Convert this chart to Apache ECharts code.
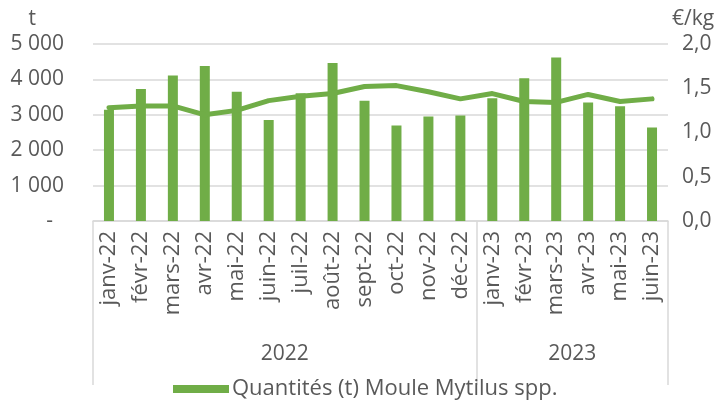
<!DOCTYPE html>
<html>
<head>
<meta charset="utf-8">
<script src="https://cdn.jsdelivr.net/npm/echarts@6/dist/echarts.min.js"></script>
<style>
  html, body { margin: 0; padding: 0; background: #fff; }
  #chart { width: 724px; height: 410px; }
</style>
</head>
<body>
<div id="chart"></div>
<script>
const months = ['janv-22', 'févr-22', 'mars-22', 'avr-22', 'mai-22', 'juin-22', 'juil-22', 'août-22', 'sept-22', 'oct-22', 'nov-22', 'déc-22',
  'janv-23', 'févr-23', 'mars-23', 'avr-23', 'mai-23', 'juin-23']
const quantities = [3140, 3730, 4110, 4380, 3650, 2850, 3610, 4460, 3400, 2700, 2950, 2980, 3470, 4030, 4620, 3350, 3240, 2640]
const prices = [1.28, 1.30, 1.30, 1.20, 1.25, 1.36, 1.41, 1.44, 1.52, 1.53, 1.46, 1.38, 1.44, 1.35, 1.34, 1.43, 1.35, 1.38]
const years = ['2022', '2023']
const yearCenters = [6, 15]
const yearBounds = [0, 12, 18]

const font = 'Open Sans'
const grey = '#595959'
const green = '#70AD47'
const gridGrey = '#d9d9d9'

const chart = echarts.init(document.getElementById('chart'))

chart.setOption({
  animation: false,
  textStyle: { fontFamily: font, color: grey },
  grid: { left: 93, right: 56, top: 44, bottom: 189 },
  legend: {
    bottom: 5,
    left: 168,
    itemWidth: 56,
    itemHeight: 8,
    itemGap: 4,
    icon: 'rect',
    data: ['Quantités (t) Moule Mytilus spp.'],
    textStyle: { fontFamily: font, fontSize: 22, color: grey, padding: [0, 0, 0, -2] },
  },
  xAxis: [
    {
      type: 'category',
      data: months,
      axisLine: { lineStyle: { color: gridGrey, width: 1.5 } },
      axisTick: { show: false },
      axisLabel: { rotate: 90, margin: 10, fontSize: 22, color: grey, interval: 0 },
    },
    {
      type: 'value',
      min: 0,
      max: 18,
      position: 'bottom',
      axisLine: { show: false },
      splitLine: { show: false },
      axisTick: {
        show: true,
        customValues: yearBounds,
        length: 164,
        lineStyle: { color: gridGrey, width: 1.5 },
      },
      axisLabel: {
        customValues: yearCenters,
        margin: 123,
        fontSize: 21,
        color: grey,
        formatter: v => years[yearCenters.indexOf(v)] || '',
      },
    },
  ],
  yAxis: [
    {
      type: 'value',
      min: 0,
      max: 5000,
      interval: 1000,
      name: 't',
      nameGap: 14,
      nameTextStyle: { fontSize: 21, color: grey, align: 'right', padding: [0, 57, 0, 0] },
      axisLine: { show: false },
      axisTick: { show: false },
      splitLine: { lineStyle: { color: gridGrey, width: 1.5 } },
      axisLabel: {
        margin: 29,
        fontSize: 21,
        color: grey,
        formatter: v => v === 0 ? '-  ' : String(v).replace(/\B(?=(\d{3})+(?!\d))/g, ' '),
      },
    },
    {
      type: 'value',
      min: 0,
      max: 2,
      interval: 0.5,
      name: '€/kg',
      nameGap: 14,
      nameTextStyle: { fontSize: 21, color: grey, align: 'left', padding: [0, 0, 0, 4] },
      axisLine: { show: false },
      axisTick: { show: false },
      splitLine: { show: false },
      axisLabel: {
        margin: 14,
        fontSize: 21,
        color: grey,
        formatter: v => v.toFixed(1).replace('.', ','),
      },
    },
  ],
  series: [
    {
      name: 'Quantités (t) Moule Mytilus spp.',
      type: 'bar',
      data: quantities,
      barWidth: 10,
      itemStyle: { color: green },
    },
    {
      name: 'Prix (€/kg)',
      type: 'line',
      yAxisIndex: 1,
      data: prices,
      symbol: 'none',
      lineStyle: { color: green, width: 5, cap: 'round', join: 'round' },
      itemStyle: { color: green },
      z: 3,
    },
  ],
})
</script>
</body>
</html>
